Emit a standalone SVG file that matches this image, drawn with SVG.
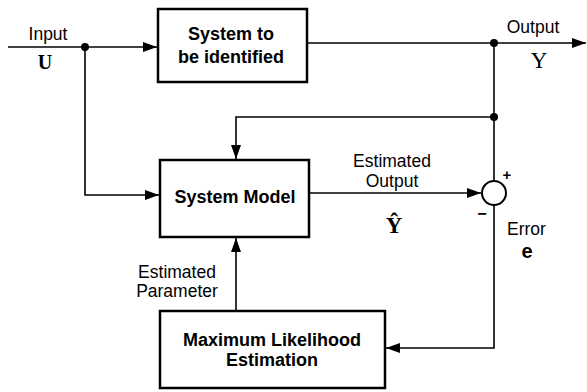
<svg xmlns="http://www.w3.org/2000/svg" width="587" height="392" viewBox="0 0 587 392">
<style>
.box{fill:#fff;stroke:#000;stroke-width:2.5}
.wire{fill:none;stroke:#000;stroke-width:1.6}
.lbl{font-family:"Liberation Sans",Arial,sans-serif;font-size:17.5px;fill:#000}
.bt{font-family:"Liberation Sans",Arial,sans-serif;font-size:18px;font-weight:bold;fill:#000;text-anchor:middle}
.sym{font-family:"Liberation Serif","Times New Roman",serif;font-size:22px;font-weight:bold;fill:#000;text-anchor:middle}
.dot{fill:#000}
</style>
<defs>
<marker id="arr" markerUnits="userSpaceOnUse" markerWidth="16" markerHeight="12" refX="14" refY="5" orient="auto">
<path d="M0,0 L14,5 L0,10 Z" fill="#000"/>
</marker>
</defs>
<g id="connectors">
<path class="wire" d="M8,47 H157" marker-end="url(#arr)"/>
<path class="wire" d="M85,47 V195 H159" marker-end="url(#arr)"/>
<path class="wire" d="M307,43 H586" marker-end="url(#arr)"/>
<path class="wire" d="M494,43 V181"/>
<path class="wire" d="M494,117 H236 V159" marker-end="url(#arr)"/>
<path class="wire" d="M309,193 H481" marker-end="url(#arr)"/>
<path class="wire" d="M494,205 V348 H386" marker-end="url(#arr)"/>
<path class="wire" d="M236,311 V238" marker-end="url(#arr)"/>
<circle class="dot" cx="85" cy="47" r="4"/>
<circle class="dot" cx="494" cy="43" r="4"/>
<circle class="dot" cx="494" cy="117" r="4"/>
</g>
<g id="input-label">
<text class="lbl" x="48" y="40" text-anchor="middle">Input</text>
<text class="sym" x="45" y="69" style="font-size:20px">U</text>
</g>
<g id="output-label">
<text class="lbl" x="533" y="33" text-anchor="middle">Output</text>
<text class="sym" x="539" y="68" style="font-size:23px;font-weight:normal">Y</text>
</g>
<g id="system">
<rect class="box" x="158" y="9" width="149" height="73"/>
<text class="bt" x="231" y="40">System to</text>
<text class="bt" x="231" y="63">be identified</text>
</g>
<g id="model">
<rect class="box" x="160" y="160" width="149" height="77"/>
<text class="bt" x="235" y="203">System Model</text>
</g>
<g id="mle">
<rect class="box" x="160" y="311" width="225" height="77"/>
<text class="bt" x="272" y="346">Maximum Likelihood</text>
<text class="bt" x="272" y="366">Estimation</text>
</g>
<g id="sum">
<circle cx="494" cy="193" r="12" fill="#fff" stroke="#000" stroke-width="2"/>
<text class="lbl" x="507" y="180" text-anchor="middle" style="font-size:15px;font-weight:bold">+</text>
<text class="lbl" x="482" y="219" text-anchor="middle" style="font-size:16px;font-weight:bold">−</text>
</g>
<g id="est-output-label">
<text class="lbl" x="392" y="167" text-anchor="middle">Estimated</text>
<text class="lbl" x="392" y="187" text-anchor="middle">Output</text>
<text class="sym" x="394" y="233" style="font-size:23px">Ŷ</text>
</g>
<g id="error-label">
<text class="lbl" x="507" y="235">Error</text>
<text class="lbl" x="527" y="258" text-anchor="middle" style="font-size:20px;font-weight:bold">e</text>
</g>
<g id="param-label">
<text class="lbl" x="177" y="278" text-anchor="middle">Estimated</text>
<text class="lbl" x="177" y="297" text-anchor="middle">Parameter</text>
</g>
</svg>
